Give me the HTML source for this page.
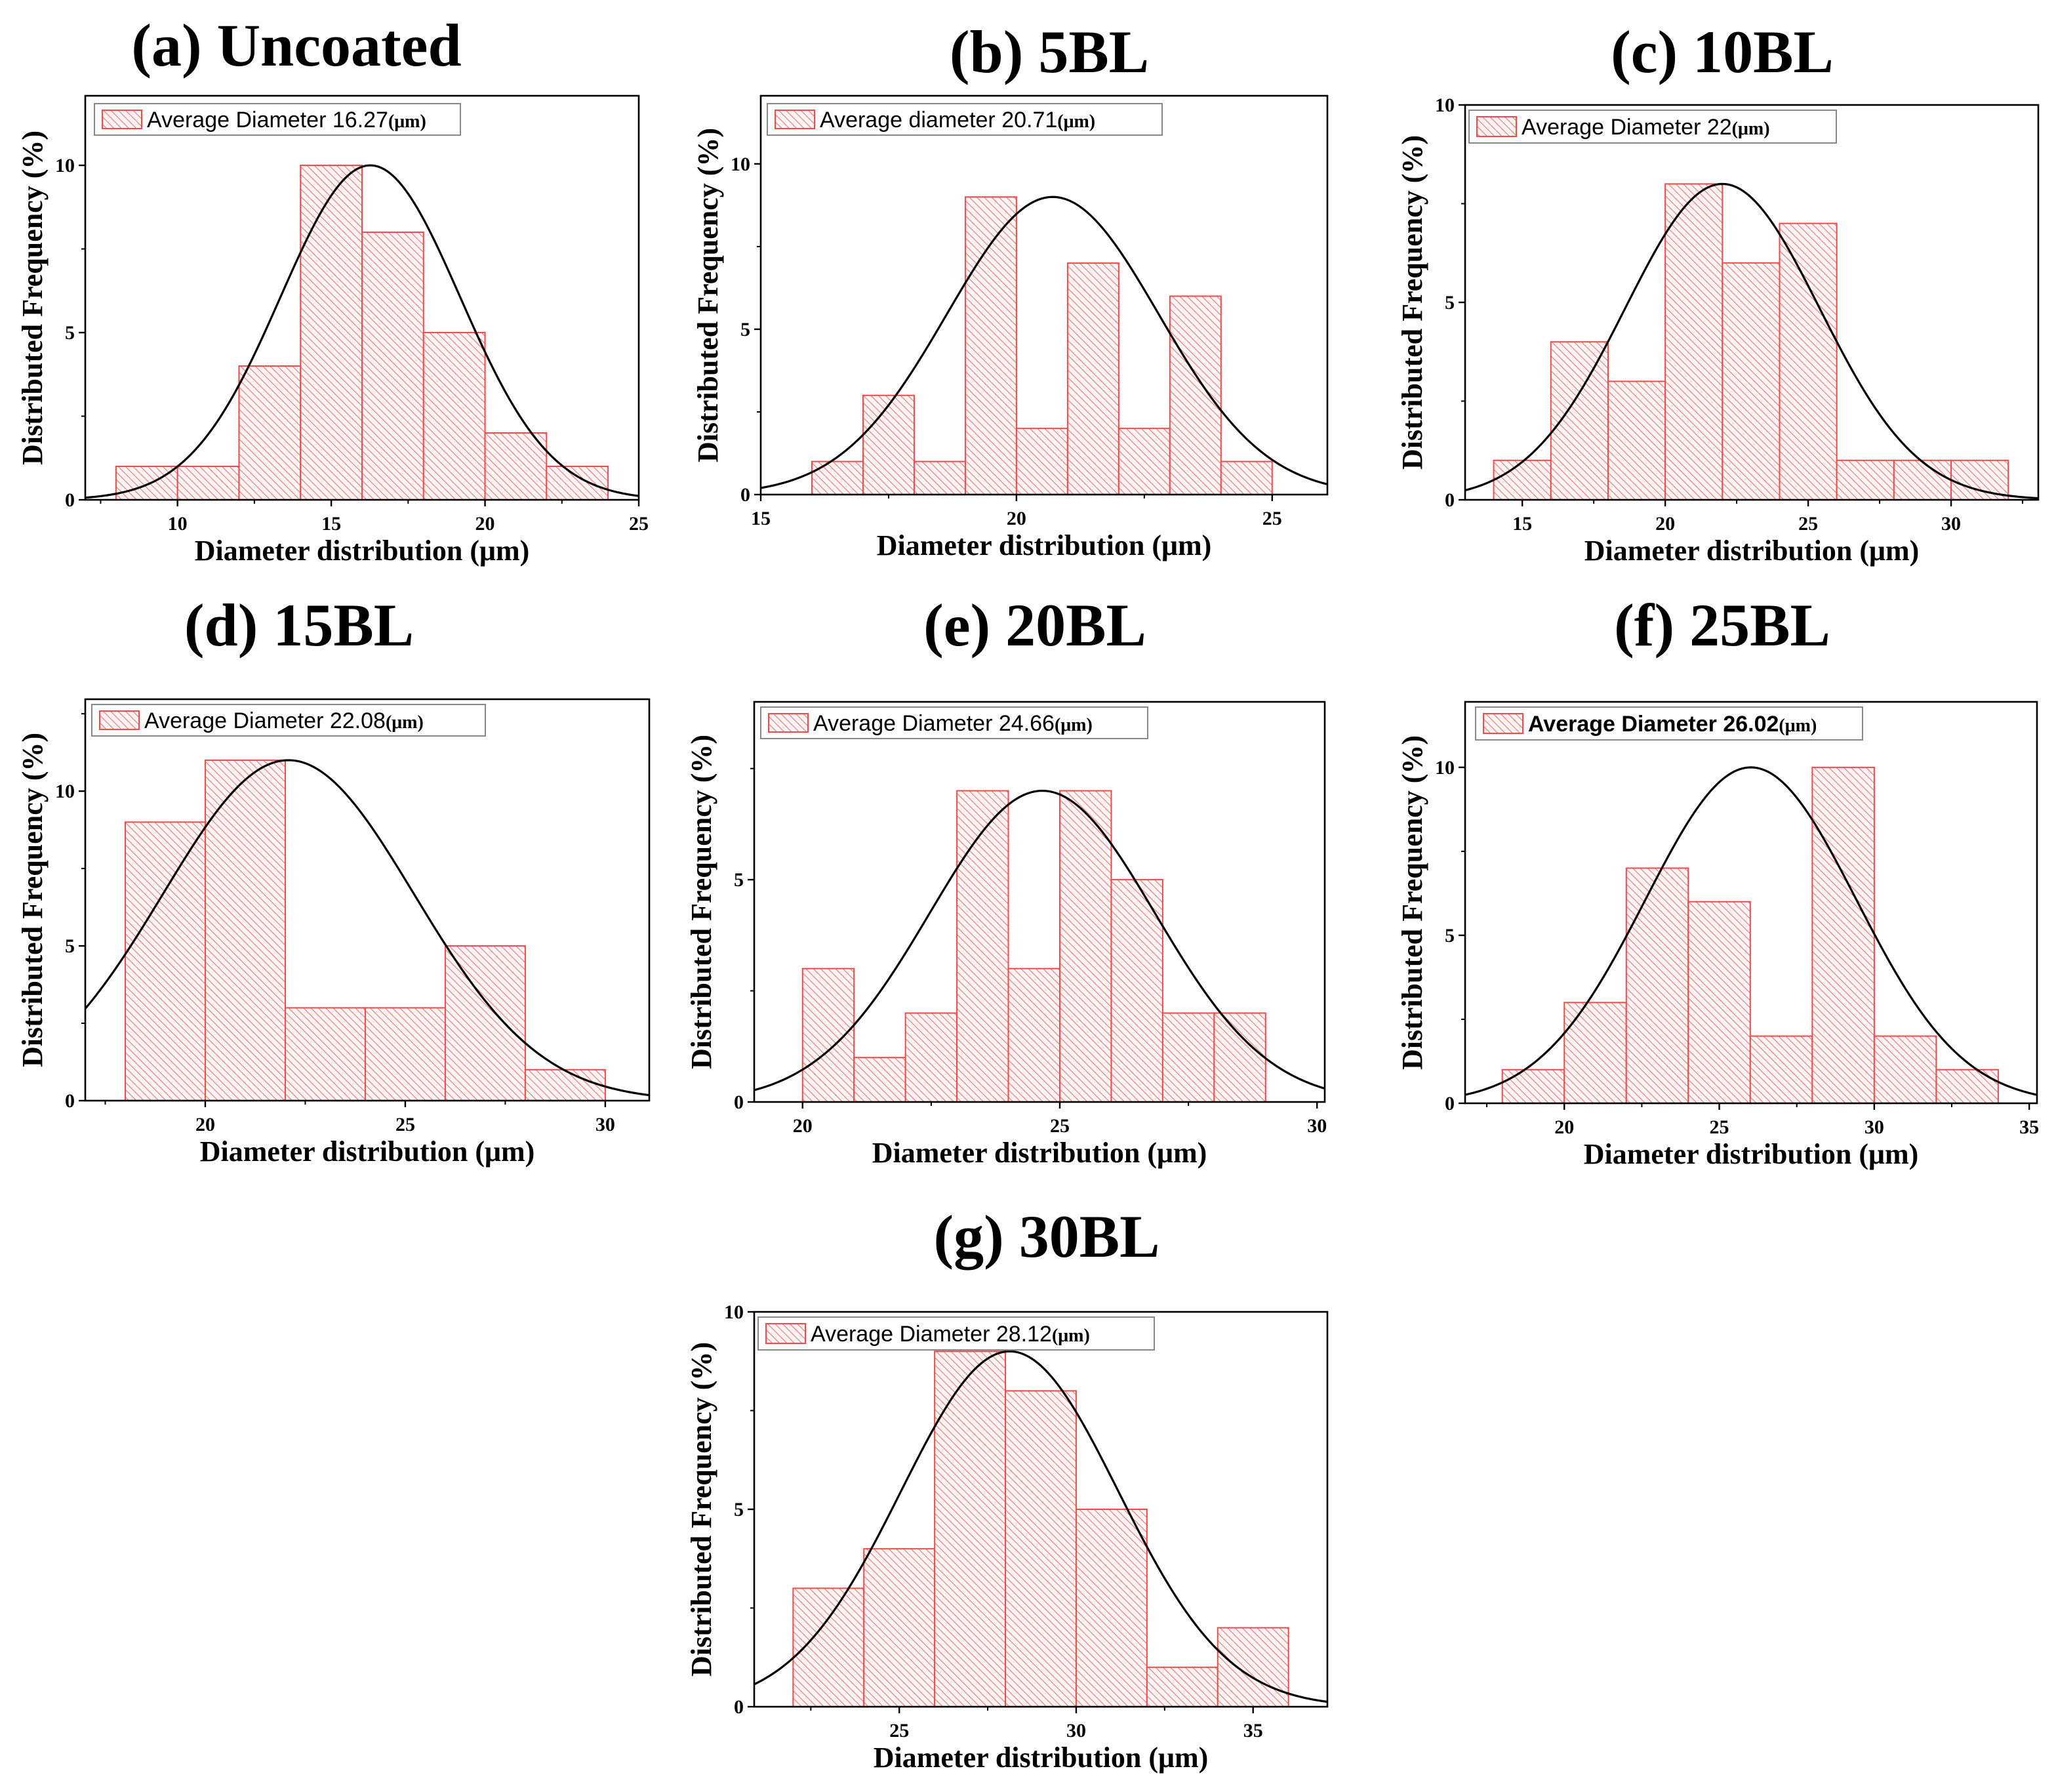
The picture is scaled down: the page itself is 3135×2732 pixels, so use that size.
<!DOCTYPE html>
<html><head><meta charset="utf-8"><style>
html,body{margin:0;padding:0;background:#fff}
svg{display:block}
</style></head><body>
<svg id="fig" width="3135" height="2732" viewBox="0 0 1567.5 1366" xmlns="http://www.w3.org/2000/svg">
<defs>
<pattern id="hatch" patternUnits="userSpaceOnUse" width="4" height="4" patternTransform="rotate(-45)">
<rect width="4" height="4" fill="#fff5f5"/>
<line x1="0" y1="0" x2="0" y2="4" stroke="#f06a6a" stroke-width="1"/>
</pattern>
</defs>
</svg>
<script>
// ---- data ----
const titles = ["(a) Uncoated","(b) 5BL","(c) 10BL","(d) 15BL","(e) 20BL","(f) 25BL","(g) 30BL"];
const legendTexts = ["Average Diameter 16.27","Average diameter 20.71","Average Diameter 22","Average Diameter 22.08","Average Diameter 24.66","Average Diameter 26.02","Average Diameter 28.12"];
const binStartsA = [8,10,12,14,16,18,20,22];
const valuesA = [1,1,4,10,8,5,2,1];
const binStartsB = [16,17,18,19,20,21,22,23,24];
const valuesB = [1,3,1,9,2,7,2,6,1];
const binStartsC = [14,16,18,20,22,24,26,28,30];
const valuesC = [1,4,3,8,6,7,1,1,1];
const binStartsD = [18,20,22,24,26,28];
const valuesD = [9,11,3,3,5,1];
const binStartsE = [20,21,22,23,24,25,26,27,28];
const valuesE = [3,1,2,7,3,7,5,2,2];
const binStartsF = [18,20,22,24,26,28,30,32];
const valuesF = [1,3,7,6,2,10,2,1];
const binStartsG = [22,24,26,28,30,32,34];
const valuesG = [3,4,9,8,5,1,2];
const binWidths = [2,1,2,2,1,2,2];
const fitMeans = [16.27,20.71,22,22.08,24.66,26.02,28.12];
const fitPeaks = [10,9,8,11,7,10,9];
const fitSigmas = [2.92,2.07,3.4,3.14,2.19,3.4,3.07];
const xDomains = [[7,25],[15,26.08],[13,33.05],[17,31.1],[19.06,30.15],[16.8,35.25],[20.9,37.1]];
const yMaxes = [12.08,12.06,10,12.97,9.0,11.95,10];
const xTicks = [[10,15,20,25],[15,20,25],[15,20,25,30],[20,25,30],[20,25,30],[20,25,30,35],[25,30,35]];
const yTicks = [[0,5,10],[0,5,10],[0,5,10],[0,5,10],[0,5],[0,5,10],[0,5,10]];
const allBins = [binStartsA,binStartsB,binStartsC,binStartsD,binStartsE,binStartsF,binStartsG];
const allVals = [valuesA,valuesB,valuesC,valuesD,valuesE,valuesF,valuesG];

// ---- layout (not data) ----
const boxes = [[65,73,487,381],[580,73,1012,377],[1117,80,1554,381],[65,533,495,839],[575,535,1010,840],[1117,535,1553,841],[575,1000,1012,1301]];
const titlePos = [[226,50],[800,55],[1313,55],[228,492],[789,492],[1313,492],[798,958]];
const legendBoxes = [[72,79,351,103],[585,79,886,103],[1120,84,1400,109],[70,537,370,561],[580,539,875,563],[1125,539,1420,564],[578,1004,880,1029]];

const NS="http://www.w3.org/2000/svg";
const svg=document.getElementById('fig');
function mk(tag,attrs,parent){const e=document.createElementNS(NS,tag);for(const k in attrs)e.setAttribute(k,attrs[k]);(parent||svg).appendChild(e);return e;}
const SERIF='"Liberation Serif", serif', SANS='"Liberation Sans", sans-serif';

for(let p=0;p<7;p++){
  const [L,T,R,B]=boxes[p];
  const [x0,x1]=xDomains[p], ym=yMaxes[p];
  const sx=v=>L+(v-x0)/(x1-x0)*(R-L);
  const sy=v=>B-v/ym*(B-T);
  const g=mk('g',{});
  
  
  const t=mk('text',{x:titlePos[p][0],y:titlePos[p][1],'text-anchor':'middle','font-family':SERIF,'font-weight':'bold','font-size':46},g);
  t.textContent=titles[p];
  
  
  const bins=allBins[p], vals=allVals[p], w=binWidths[p];
  for(let i=0;i<bins.length;i++){
    const r=mk('rect',{x:sx(bins[i]),y:sy(vals[i]),width:sx(bins[i]+w)-sx(bins[i]),height:sy(0)-sy(vals[i]),fill:'url(#hatch)',stroke:'#f04a4a','stroke-width':1},g);
    
    
  }
  let d='';
  for(let k=0;k<=200;k++){const x=x0+(x1-x0)*k/200;const y=fitPeaks[p]*Math.exp(-Math.pow(x-fitMeans[p],2)/(2*fitSigmas[p]*fitSigmas[p]));d+=(k?'L':'M')+sx(x).toFixed(2)+','+sy(y).toFixed(2);}
  const c=mk('path',{d:d,fill:'none',stroke:'#000','stroke-width':1.6},g);
  
  
  const f=mk('rect',{x:L,y:T,width:R-L,height:B-T,fill:'none',stroke:'#000','stroke-width':1.3},g);
  
  
  const xt=xTicks[p];
  for(const v of xt){
    mk('line',{x1:sx(v),y1:B,x2:sx(v),y2:B+5,stroke:'#000','stroke-width':1.2},g);
    const m=v-2.5; if(m>x0) mk('line',{x1:sx(m),y1:B,x2:sx(m),y2:B+3,stroke:'#000','stroke-width':1},g);
    const tl=mk('text',{x:sx(v),y:B+23,'text-anchor':'middle','font-family':SERIF,'font-weight':'bold','font-size':15},g);
    tl.textContent=v;
    
    
  }
  const lastX=xt[xt.length-1]+2.5; if(lastX<x1) mk('line',{x1:sx(lastX),y1:B,x2:sx(lastX),y2:B+3,stroke:'#000','stroke-width':1},g);
  for(const v of yTicks[p]){
    mk('line',{x1:L,y1:sy(v),x2:L-5,y2:sy(v),stroke:'#000','stroke-width':1.2},g);
    if(v+2.5<ym) mk('line',{x1:L,y1:sy(v+2.5),x2:L-3,y2:sy(v+2.5),stroke:'#000','stroke-width':1},g);
    const tl=mk('text',{x:L-8,y:sy(v)+5,'text-anchor':'end','font-family':SERIF,'font-weight':'bold','font-size':15},g);
    tl.textContent=v;
    
    
  }
  const xl=mk('text',{x:(L+R)/2,y:B+46,'text-anchor':'middle','font-family':SERIF,'font-weight':'bold','font-size':22},g);
  xl.textContent='Diameter distribution (μm)';
  
  
  const yl=mk('text',{x:0,y:0,'text-anchor':'middle','font-family':SERIF,'font-weight':'bold','font-size':22,transform:`translate(${L-33},${(T+B)/2}) rotate(-90)`},g);
  yl.textContent='Distributed Frequency (%)';
  
  
  const [a,b,c2,d2]=legendBoxes[p];
  const lg=mk('g',{},g);
  
  
  mk('rect',{x:a,y:b,width:c2-a,height:d2-b,fill:'#fff',stroke:'#888','stroke-width':1},lg);
  mk('rect',{x:a+6,y:b+5,width:30,height:d2-b-10,fill:'url(#hatch)',stroke:'#f04a4a','stroke-width':1},lg);
  const lt=mk('text',{x:a+40,y:(b+d2)/2+6,'font-family':SANS,'font-size':17,'font-weight':p==5?'bold':'normal'},lg);
  lt.textContent=legendTexts[p];
  const ts=mk('tspan',{'font-family':SERIF,'font-weight':'bold','font-size':14},lt);
  ts.textContent='(μm)';
  
  
}
</script>
</body></html>
